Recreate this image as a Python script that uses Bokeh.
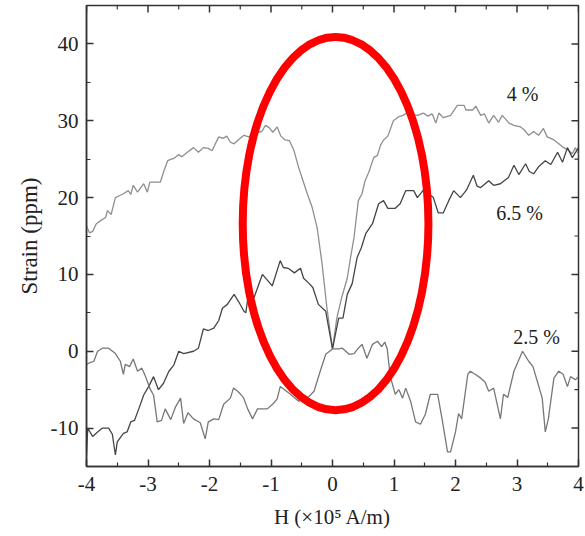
from math import pi
from bokeh.plotting import figure
from bokeh.models import Range1d, FixedTicker, PrintfTickFormatter
from bokeh.embed import file_html
from bokeh.resources import INLINE
from bokeh.core.properties import value

# ---- data ----
h_4 = [-4.0, -3.95, -3.9, -3.84, -3.77, -3.69, -3.66, -3.6, -3.53, -3.45, -3.4, -3.32, -3.28, -3.24, -3.17, -3.1,
       -3.07, -3.01, -2.97, -2.93, -2.8, -2.74, -2.68, -2.62, -2.58, -2.5, -2.45, -2.36, -2.26, -2.18, -2.1, -2.02,
       -1.96, -1.85, -1.78, -1.72, -1.66, -1.6, -1.52, -1.44, -1.36, -1.28, -1.22, -1.15, -1.09, -1.03, -0.97, -0.9,
       -0.84, -0.77, -0.7, -0.63, -0.55, -0.48, -0.41, -0.33, -0.25, -0.17, -0.09, 0.0, 0.07, 0.15, 0.24, 0.3, 0.35,
       0.42, 0.48, 0.53, 0.59, 0.67, 0.73, 0.78, 0.83, 0.9, 0.99, 1.07, 1.15, 1.22, 1.3, 1.38, 1.48, 1.55, 1.62, 1.68,
       1.73, 1.8, 1.92, 2.03, 2.14, 2.17, 2.28, 2.33, 2.41, 2.47, 2.54, 2.62, 2.7, 2.76, 2.87, 2.95, 3.06, 3.12, 3.19,
       3.27, 3.35, 3.43, 3.49, 3.6, 3.68, 3.76, 3.83, 3.9, 3.95, 4.0]
s_4 = [16.3, 15.4, 15.6, 16.6, 17.0, 17.4, 18.3, 17.8, 20.0, 20.3, 20.5, 20.9, 20.4, 21.6, 20.7, 21.5,
       21.8, 20.7, 22.0, 22.0, 22.0, 23.5, 24.8, 25.0, 25.1, 25.6, 25.3, 25.9, 26.5, 25.9, 26.5, 26.4,
       26.1, 27.9, 27.7, 28.0, 27.2, 27.0, 27.6, 28.1, 27.9, 28.4, 28.5, 28.6, 29.4, 29.1, 28.5, 29.2,
       28.0, 27.5, 27.4, 26.2, 23.9, 22.2, 20.5, 18.7, 16.1, 11.4, 5.6, 0.3, 4.3, 7.0, 9.5, 12.5, 14.8,
       19.6, 20.5, 22.2, 23.3, 25.2, 25.5, 26.8, 27.5, 28.0, 30.0, 30.5, 30.7, 31.1, 30.8, 30.7, 31.0, 30.6, 30.9, 29.7,
       31.0, 30.4, 30.7, 32.0, 32.0, 31.4, 31.4, 31.9, 30.7, 30.9, 29.7, 30.7, 29.8, 30.7, 29.7, 29.4, 29.2, 28.8, 28.1,
       28.6, 28.1, 29.0, 27.9, 27.5, 27.0, 26.5, 26.2, 25.7, 26.5, 25.6]

h_65 = [-4.0, -3.98, -3.9, -3.82, -3.74, -3.64, -3.58, -3.53, -3.5, -3.4, -3.34, -3.28, -3.22, -3.15, -3.07, -2.99,
        -2.91, -2.83, -2.75, -2.66, -2.58, -2.5, -2.42, -2.26, -2.18, -2.1, -2.02, -1.93, -1.85, -1.79, -1.71, -1.6,
        -1.53, -1.44, -1.41, -1.36, -1.28, -1.14, -0.98, -0.85, -0.8, -0.72, -0.62, -0.52, -0.47, -0.39, -0.32, -0.23,
        -0.11, 0.0, 0.1, 0.17, 0.24, 0.32, 0.4, 0.47, 0.54, 0.65, 0.75, 0.83, 0.9, 1.02, 1.1, 1.19, 1.32, 1.38, 1.48,
        1.56, 1.64, 1.72, 1.8, 1.89, 1.97, 2.08, 2.18, 2.29, 2.35, 2.41, 2.54, 2.62, 2.73, 2.86, 2.95, 3.03, 3.14, 3.2,
        3.27, 3.35, 3.46, 3.55, 3.66, 3.74, 3.82, 3.9, 4.0]
s_65 = [-13.5, -10.0, -11.1, -10.5, -10.0, -10.0, -10.8, -13.5, -11.8, -10.7, -10.5, -9.2, -9.0, -7.5, -5.7, -4.6,
        -3.3, -5.0, -4.2, -2.6, -1.8, 0.0, -0.3, 0.0, 0.4, 2.9, 2.7, 3.0, 4.0, 5.6, 6.1, 7.4,
        6.5, 5.2, 5.0, 7.8, 6.9, 10.0, 8.5, 11.8, 10.9, 10.8, 10.2, 10.8, 9.5, 8.9, 8.3, 6.1,
        5.2, 0.3, 4.3, 4.3, 7.4, 8.8, 12.2, 13.5, 15.3, 16.6, 19.2, 19.6, 18.6, 18.6, 19.2, 20.9, 20.9, 20.0, 21.0,
        20.5, 20.0, 18.0, 18.0, 19.6, 20.9, 20.0, 21.0, 22.9, 21.5, 21.3, 22.2, 21.6, 21.8, 22.6, 24.2, 23.0, 24.4, 23.4,
        23.1, 24.0, 24.8, 24.3, 25.9, 24.6, 26.5, 25.2, 26.5]

h_25 = [-4.0, -3.95, -3.88, -3.82, -3.74, -3.64, -3.53, -3.45, -3.4, -3.37, -3.3, -3.24, -3.17, -3.1, -3.04, -2.96,
        -2.91, -2.85, -2.78, -2.72, -2.63, -2.55, -2.47, -2.42, -2.35, -2.26, -2.15, -2.07, -2.02, -1.93, -1.85, -1.77,
        -1.66, -1.61, -1.54, -1.45, -1.38, -1.3, -1.22, -1.06, -0.96, -0.9, -0.85, -0.7, -0.55, -0.41, -0.3, -0.2,
        -0.11, 0.0, 0.1, 0.16, 0.27, 0.35, 0.42, 0.48, 0.56, 0.65, 0.73, 0.8, 0.85, 0.89, 0.94, 1.02, 1.08, 1.14, 1.19,
        1.27, 1.35, 1.43, 1.51, 1.59, 1.71, 1.79, 1.87, 1.92, 2.0, 2.05, 2.1, 2.2, 2.24, 2.32, 2.41, 2.48, 2.54, 2.62,
        2.73, 2.78, 2.85, 2.95, 3.09, 3.19, 3.26, 3.33, 3.41, 3.46, 3.51, 3.6, 3.68, 3.75, 3.82, 3.87, 3.95, 4.0]
s_25 = [-1.7, -1.5, -1.3, 0.0, 0.4, 0.4, -0.3, -1.3, -3.0, -1.7, -2.0, -1.0, -2.6, -2.2, -3.3, -5.0,
        -5.7, -9.2, -9.0, -7.5, -8.9, -7.2, -6.1, -9.4, -8.0, -8.8, -9.3, -11.4, -9.2, -8.8, -8.9, -6.9,
        -6.1, -4.8, -5.2, -6.0, -7.5, -8.8, -7.5, -7.5, -6.8, -6.2, -4.6, -5.5, -6.5, -6.1, -5.2, -2.6,
        -0.4, 0.3, 0.3, 0.4, -0.4, -0.3, 0.4, 0.9, -0.9, 0.9, 1.3, 0.6, 1.2, 0.3, -3.3, -5.6, -5.0, -6.1, -4.8,
        -6.5, -9.2, -9.5, -8.2, -5.6, -5.6, -9.2, -13.1, -13.1, -10.5, -8.1, -8.8, -3.0, -2.6, -3.0, -3.5, -4.0, -5.2, -4.8,
        -8.8, -5.6, -6.0, -2.6, 0.0, -1.3, -2.0, -3.9, -6.1, -10.5, -8.8, -3.5, -2.6, -3.0, -4.6, -3.3, -3.7, -3.3]

series_labels = ["4 %", "6.5 %", "2.5 %"]
label_h = [3.09, 3.04, 3.32]
label_s = [33.5, 18.0, 1.8]

x_ticks = [-4, -3, -2, -1, 0, 1, 2, 3, 4]
x_minor = [-3.5, -2.5, -1.5, -0.5, 0.5, 1.5, 2.5, 3.5]
y_ticks = [-10, 0, 10, 20, 30, 40]
y_minor = [-15, -5, 5, 15, 25, 35, 45]

X0, X1, Y0, Y1 = -4, 4, -15, 45
FONT = "Liberation Serif"
AX = "#333333"

p = figure(width=585, height=536, output_backend="svg", toolbar_location=None,
           x_range=Range1d(X0, X1), y_range=Range1d(Y0, Y1),
           min_border_left=86, min_border_top=5, min_border_right=7, min_border_bottom=70,
           background_fill_color="white", border_fill_color="white")
p.grid.visible = False
p.outline_line_color = AX
p.outline_line_width = 1.5

p.line(h_4, s_4, line_color="#8f8f8f", line_width=1.3)
p.line(h_65, s_65, line_color="#454545", line_width=1.3)
p.line(h_25, s_25, line_color="#777777", line_width=1.3)

p.ellipse(x=[0.05], y=[16.6], width=3.02, height=48.6, fill_color=None,
          line_color="#ff0000", line_width=8)

p.text(x=label_h, y=label_s, text=series_labels, text_font=value(FONT), text_font_size="20px",
       text_color="#222222", text_align="center", text_baseline="middle")

# mirrored inward ticks on the top and right edges
p.ray(x=x_ticks, y=[Y1] * len(x_ticks), length=7, length_units="screen", angle=-pi / 2,
      line_color=AX, line_width=1.5)
p.ray(x=x_minor, y=[Y1] * len(x_minor), length=4, length_units="screen", angle=-pi / 2,
      line_color=AX, line_width=1.2)
p.ray(x=[X1] * len(y_ticks), y=y_ticks, length=7, length_units="screen", angle=pi,
      line_color=AX, line_width=1.5)
p.ray(x=[X1] * len(y_minor), y=y_minor, length=4, length_units="screen", angle=pi,
      line_color=AX, line_width=1.2)

for ax in (p.xaxis[0], p.yaxis[0]):
    ax.axis_line_color = AX
    ax.axis_line_width = 1.5
    ax.major_tick_line_color = AX
    ax.minor_tick_line_color = AX
    ax.major_tick_line_width = 1.5
    ax.minor_tick_line_width = 1.2
    ax.major_tick_in = 7
    ax.major_tick_out = 0
    ax.minor_tick_in = 4
    ax.minor_tick_out = 0
    ax.formatter = PrintfTickFormatter(format="%d")
    ax.major_label_text_font = FONT
    ax.major_label_text_color = "#222222"
    ax.major_label_text_font_size = "21px"
    ax.axis_label_text_font = FONT
    ax.axis_label_text_font_style = "normal"
    ax.axis_label_text_color = "#222222"

p.xaxis.ticker = FixedTicker(ticks=x_ticks, minor_ticks=x_minor)
p.yaxis.ticker = FixedTicker(ticks=y_ticks, minor_ticks=y_minor)
p.xaxis.axis_label = "H (×10⁵ A/m)"
p.yaxis.axis_label = "Strain (ppm)"
p.xaxis.axis_label_text_font_size = "21px"
p.yaxis.axis_label_text_font_size = "23px"
p.xaxis.major_label_standoff = 10
p.yaxis.major_label_standoff = 8
p.xaxis.axis_label_standoff = 11
p.yaxis.axis_label_standoff = 6

open("out.html", "w").write(file_html(p, INLINE))
